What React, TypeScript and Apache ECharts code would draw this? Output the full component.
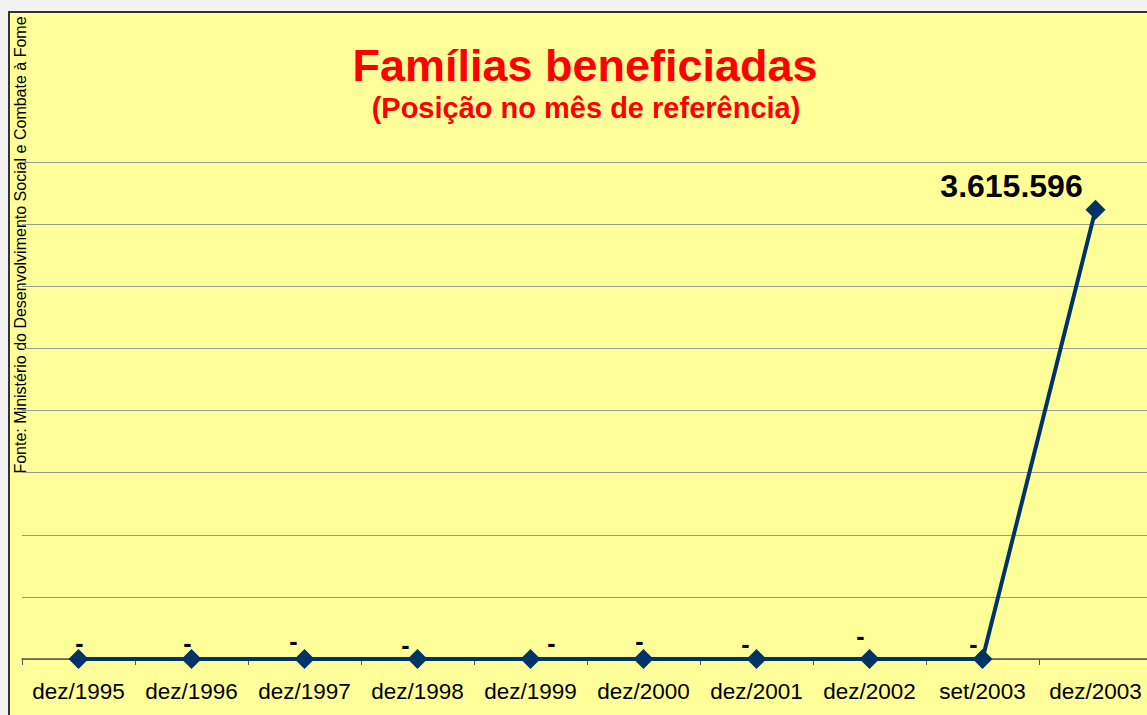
import React, { useEffect, useRef } from "react";
import * as echarts from "echarts";

const categories = ["dez/1995", "dez/1996", "dez/1997", "dez/1998", "dez/1999", "dez/2000", "dez/2001", "dez/2002", "set/2003", "dez/2003"];
const familias = [0, 0, 0, 0, 0, 0, 0, 0, 0, 3615596];
const yMin = 0;
const yMax = 4000000;
const yInterval = 500000;
const titleText = "Famílias beneficiadas";
const subtitleText = "(Posição no mês de referência)";
const sourceText = "Fonte: Ministério do Desenvolvimento Social e Combate à Fome";

// label placement tweaks (styling only)
const labelOffsets: [number, number][] = [
  [1, 11], [-4, 11], [-11, 9], [-12, 13], [21, 11], [-4, 9], [-11, 12], [-9, 4], [-9, 12], [-84, 7],
];

const FONT = "'Liberation Sans', Arial, Helvetica, sans-serif";

function fmt(v: number): string {
  if (v === 0) return "-";
  return String(v).replace(/\B(?=(\d{3})+(?!\d))/g, ".");
}

export default function App() {
  const ref = useRef<HTMLDivElement>(null);
  useEffect(() => {
    if (!ref.current) return;
    const chart = echarts.init(ref.current, undefined, { renderer: "svg" });
    chart.setOption({
      animation: false,
      backgroundColor: "#FFFF99",
      grid: { left: 12, right: 0, top: 149, bottom: 56, containLabel: false },
      graphic: [
        {
          type: "text",
          x: 575,
          y: 52,
          style: {
            text: titleText,
            font: `bold 45px ${FONT}`,
            fill: "#FF0000",
            textAlign: "center",
            textVerticalAlign: "middle",
          },
        },
        {
          type: "text",
          x: 576,
          y: 95,
          style: {
            text: subtitleText,
            font: `bold 29px ${FONT}`,
            fill: "#FF0000",
            textAlign: "center",
            textVerticalAlign: "middle",
          },
        },
        {
          type: "text",
          x: 10,
          y: 232,
          rotation: Math.PI / 2,
          style: {
            text: sourceText,
            font: `16px ${FONT}`,
            fill: "#000000",
            textAlign: "center",
            textVerticalAlign: "middle",
          },
        },
      ],
      xAxis: {
        type: "category",
        data: categories,
        boundaryGap: true,
        axisLine: { show: true, lineStyle: { color: "#555555", width: 1.5 } },
        axisTick: { show: true, alignWithLabel: false, length: 6, lineStyle: { color: "#555555" } },
        axisLabel: { color: "#000000", fontSize: 22.5, fontFamily: FONT, margin: 21, interval: 0 },
        splitLine: { show: false },
      },
      yAxis: {
        type: "value",
        min: yMin,
        max: yMax,
        interval: yInterval,
        axisLine: { show: false },
        axisTick: { show: false },
        axisLabel: { show: false },
        splitLine: { show: true, lineStyle: { color: "#9a9a9a", width: 1 } },
      },
      series: [
        {
          type: "line",
          data: familias.map((v, i) => ({
            value: v,
            label: v === 0 ? { offset: labelOffsets[i] } : { offset: labelOffsets[i], fontSize: 32 },
          })),
          lineStyle: { color: "#003366", width: 4 },
          itemStyle: { color: "#003366" },
          symbol: "diamond",
          symbolSize: 20,
          label: {
            show: true,
            position: "top",
            color: "#000000",
            fontFamily: FONT,
            fontWeight: "bold",
            fontSize: 25,
            formatter: (p: any) => fmt(p.value),
          },
        },
      ],
    });
    return () => chart.dispose();
  }, []);
  return (
    <div style={{ position: "fixed", inset: 0, background: "#F2F2F2", overflow: "hidden" }}>
      <div
        style={{
          position: "absolute",
          left: 8,
          top: 11,
          width: 1144,
          borderLeft: "2px solid #333333",
          borderTop: "2px solid #333333",
        }}
      >
        <div ref={ref} style={{ width: 1142, height: 702 }} />
      </div>
    </div>
  );
}
